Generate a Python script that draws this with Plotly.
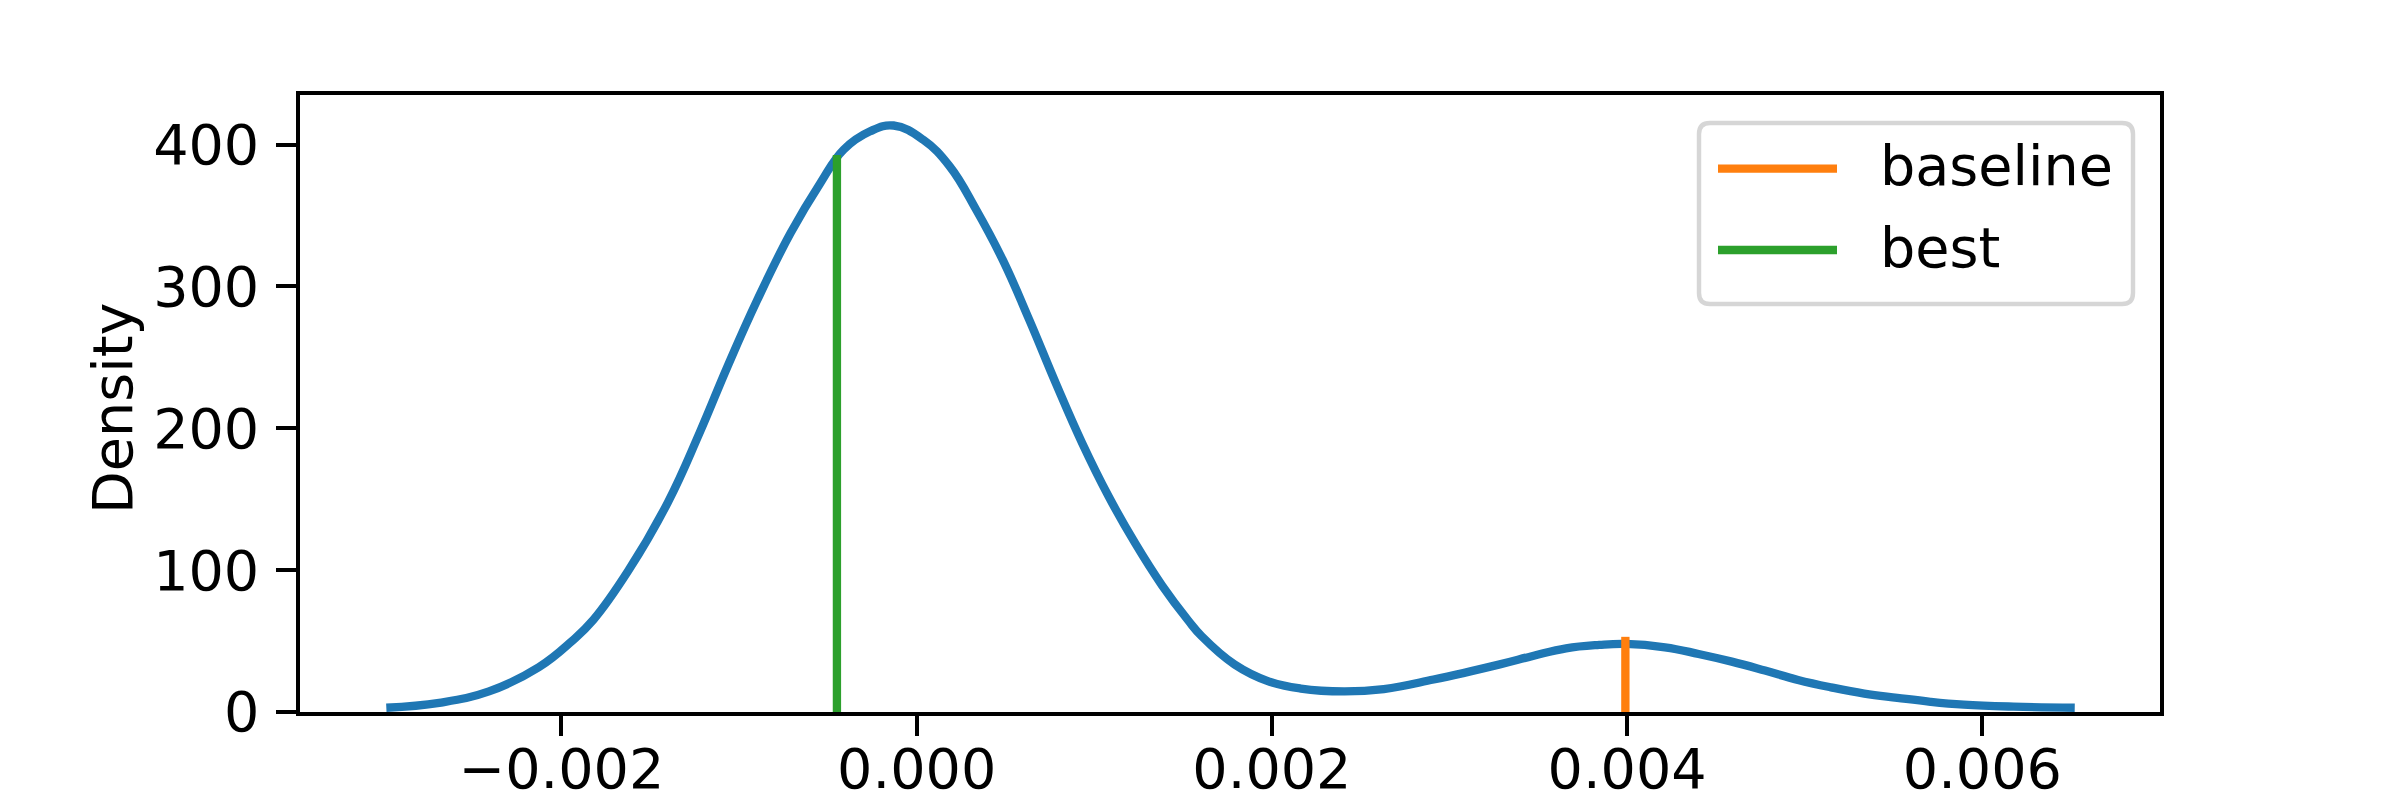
import plotly.graph_objects as go

# ---- data ----
kde_x = [-0.002986, -0.002688, -0.002408, -0.002128, -0.001941, -0.001820, -0.001624,
         -0.001400, -0.001223, -0.001065, -0.000897, -0.000710, -0.000542, -0.000411,
         -0.000262, -0.000130, 0.000036, 0.000186, 0.000335, 0.000484, 0.000634,
         0.000783, 0.000932, 0.001081, 0.001230, 0.001380, 0.001529, 0.001604,
         0.001790, 0.001977, 0.002163, 0.002406, 0.002630, 0.002910, 0.003283,
         0.003469, 0.003656, 0.003843, 0.003992, 0.004213, 0.004402, 0.004589,
         0.004776, 0.004962, 0.005148, 0.005335, 0.005521, 0.005708, 0.005895,
         0.006175, 0.006520]
kde_y = [3.0, 6.5, 14.5, 31.5, 50.0, 65.0, 99.5,
         148.0, 196.6, 243.6, 290.6, 337.7, 373.0, 396.5,
         409.4, 413.5, 403.5, 384.7, 354.1, 318.9, 276.5,
         231.9, 189.5, 151.9, 119.0, 89.5, 64.5, 53.5,
         33.5, 21.8, 16.5, 14.5, 16.2, 22.9, 33.6,
         39.5, 44.9, 47.3, 48.0, 45.6, 40.9, 35.5,
         29.2, 22.6, 17.4, 13.0, 10.0, 7.2, 5.2,
         3.8, 3.0]

marker_names = ["baseline", "best"]
marker_x = [0.00399, -0.000449]
marker_top = [53.0, 392.7]
marker_colors = ["#ff7f0e", "#2ca02c"]

x_ticks = [-0.002, 0.0, 0.002, 0.004, 0.006]
y_ticks = [0, 100, 200, 300, 400]
x_range = [-0.003472, 0.007]
y_range = [0, 435]

# ---- geometry (screen pixels; the page body adds an 8px offset) ----
OFF = 8
W, H = 2400 - OFF, 800 - OFF
L, R, T, B = 300, 2160, 95, 712      # plot area on screen
FONT = "DejaVu Sans"
FS = 55.6
LW = 8.33
AW = 4.44

fig = go.Figure()
fig.add_trace(go.Scatter(x=kde_x, y=kde_y, mode="lines",
                         line=dict(color="#1f77b4", width=LW, shape="spline", smoothing=1.2),
                         showlegend=False, hoverinfo="skip"))
for name, xv, top, col in zip(marker_names, marker_x, marker_top, marker_colors):
    fig.add_trace(go.Scatter(x=[xv, xv], y=[0, top], mode="lines", name=name,
                             line=dict(color=col, width=LW), showlegend=False))

def px(xp):
    return (xp - L) / (R - L)

def py(yp):
    return (B - yp) / (B - T)

# custom legend in matplotlib style
bx0, by0, bx1, by1, rr = 1699, 123, 2133, 304, 11
path = (f"M {px(bx0+rr)},{py(by0)} L {px(bx1-rr)},{py(by0)} Q {px(bx1)},{py(by0)} {px(bx1)},{py(by0+rr)} "
        f"L {px(bx1)},{py(by1-rr)} Q {px(bx1)},{py(by1)} {px(bx1-rr)},{py(by1)} "
        f"L {px(bx0+rr)},{py(by1)} Q {px(bx0)},{py(by1)} {px(bx0)},{py(by1-rr)} "
        f"L {px(bx0)},{py(by0+rr)} Q {px(bx0)},{py(by0)} {px(bx0+rr)},{py(by0)} Z")
fig.add_shape(type="path", path=path, xref="paper", yref="paper",
              line=dict(color="#d6d6d6", width=AW), fillcolor="rgba(255,255,255,0.8)", layer="above")
entry_y = [168.7, 250.0]
for name, col, ey in zip(marker_names, marker_colors, entry_y):
    fig.add_shape(type="line", xref="paper", yref="paper", x0=px(1718), x1=px(1837), y0=py(ey), y1=py(ey),
                  line=dict(color=col, width=LW), layer="above")
    fig.add_annotation(text=name, xref="paper", yref="paper", x=px(1878), y=py(ey - 3),
                       xanchor="left", yanchor="middle", showarrow=False,
                       font=dict(family=FONT, size=FS, color="black"))

# y-axis label
fig.add_annotation(text="Density", xref="paper", yref="paper", x=px(112), y=py(409),
                   xanchor="center", yanchor="middle", textangle=-90, showarrow=False,
                   font=dict(family=FONT, size=FS, color="black"))

axis_common = dict(showline=True, linecolor="black", linewidth=AW, mirror=True,
                   ticks="outside", ticklen=19.4, tickwidth=AW, tickcolor="black",
                   showgrid=False, zeroline=False, automargin=False,
                   tickfont=dict(family=FONT, size=FS, color="black"))

fig.update_layout(
    width=W, height=H,
    margin=dict(l=L - OFF, r=W - (R - OFF), t=T - OFF, b=H - (B - OFF)),
    paper_bgcolor="white", plot_bgcolor="white",
    showlegend=False,
    xaxis=dict(range=x_range, tickvals=x_ticks, tickformat=".3f", ticklabelstandoff=-14, **axis_common),
    yaxis=dict(range=y_range, tickvals=y_ticks, ticklabelstandoff=6, **axis_common),
)

fig.write_html("out.html")
